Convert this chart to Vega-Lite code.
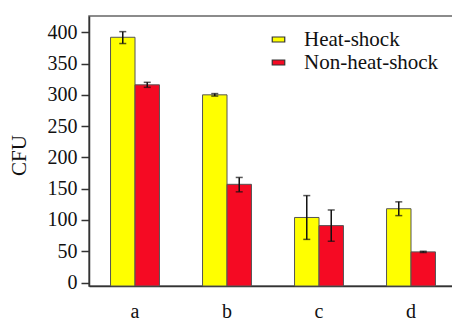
{
  "$schema": "https://vega.github.io/schema/vega-lite/v6.json",
  "autosize": "none",
  "padding": {"left": 89, "top": 16, "right": 0, "bottom": 37},
  "width": 368,
  "height": 270,
  "background": "white",
  "config": {
    "font": "Liberation Serif",
    "view": {"stroke": "#666666", "strokeWidth": 1.5},
    "axis": {"grid": false, "domainColor": "#333333", "domainWidth": 1.5, "tickColor": "#333333", "tickWidth": 1.5, "labelColor": "#111111", "titleColor": "#111111", "labelFont": "Liberation Serif", "titleFont": "Liberation Serif", "labelFontSize": 20, "titleFontSize": 21, "titleFontWeight": "normal"}
  },
  "resolve": {"axis": {"y": "independent"}},
  "data": {
    "values": [
      {"group": "a", "treatment": "Heat-shock", "cfu": 392, "lo": 382, "hi": 401},
      {"group": "a", "treatment": "Non-heat-shock", "cfu": 316, "lo": 312, "hi": 320},
      {"group": "b", "treatment": "Heat-shock", "cfu": 300, "lo": 298, "hi": 302},
      {"group": "b", "treatment": "Non-heat-shock", "cfu": 157, "lo": 145, "hi": 168},
      {"group": "c", "treatment": "Heat-shock", "cfu": 104, "lo": 69, "hi": 139},
      {"group": "c", "treatment": "Non-heat-shock", "cfu": 91, "lo": 66, "hi": 116},
      {"group": "d", "treatment": "Heat-shock", "cfu": 118, "lo": 107, "hi": 129},
      {"group": "d", "treatment": "Non-heat-shock", "cfu": 49, "lo": 48, "hi": 50}
    ]
  },
  "encoding": {
    "x": {"field": "group", "type": "nominal", "scale": {"paddingInner": 0, "paddingOuter": 0},
      "axis": {"title": null, "labelAngle": 0, "ticks": false, "labelPadding": 15}},
    "xOffset": {"field": "treatment", "type": "nominal", "sort": ["Heat-shock", "Non-heat-shock"], "scale": {"paddingOuter": 0.88, "paddingInner": 0}}
  },
  "layer": [
    {
      "mark": {"type": "bar", "stroke": "#555555", "strokeWidth": 1},
      "encoding": {
        "y": {"field": "cfu", "type": "quantitative", "scale": {"domain": [-5.5, 426], "nice": false, "zero": false},
          "axis": {"title": "CFU", "values": [0, 50, 100, 150, 200, 250, 300, 350, 400], "tickSize": 8, "labelPadding": 4, "labelOverlap": false, "titleX": -60, "titleY": 139}},
        "y2": {"datum": -5.5},
        "color": {"field": "treatment", "type": "nominal", "sort": ["Heat-shock", "Non-heat-shock"],
          "scale": {"domain": ["Heat-shock", "Non-heat-shock"], "range": ["#FFFF00", "#F50A23"]},
          "legend": {"title": null, "orient": "none", "legendX": 179, "legendY": 13, "symbolType": "M-1.25,-0.5H1.25V0.5H-1.25Z", "symbolSize": 100, "symbolStrokeColor": "#333333", "symbolStrokeWidth": 1.2, "labelFont": "Liberation Serif", "labelFontSize": 21, "labelColor": "#111111", "labelOffset": 15, "rowPadding": 1}}
      }
    },
    {
      "mark": {"type": "rule", "color": "#111111", "strokeWidth": 1.5},
      "encoding": {"y": {"field": "lo", "type": "quantitative", "axis": null}, "y2": {"field": "hi"}}
    },
    {
      "mark": {"type": "tick", "color": "#111111", "thickness": 1.5, "size": 7},
      "encoding": {"y": {"field": "lo", "type": "quantitative", "axis": null}}
    },
    {
      "mark": {"type": "tick", "color": "#111111", "thickness": 1.5, "size": 7},
      "encoding": {"y": {"field": "hi", "type": "quantitative", "axis": null}}
    }
  ]
}
